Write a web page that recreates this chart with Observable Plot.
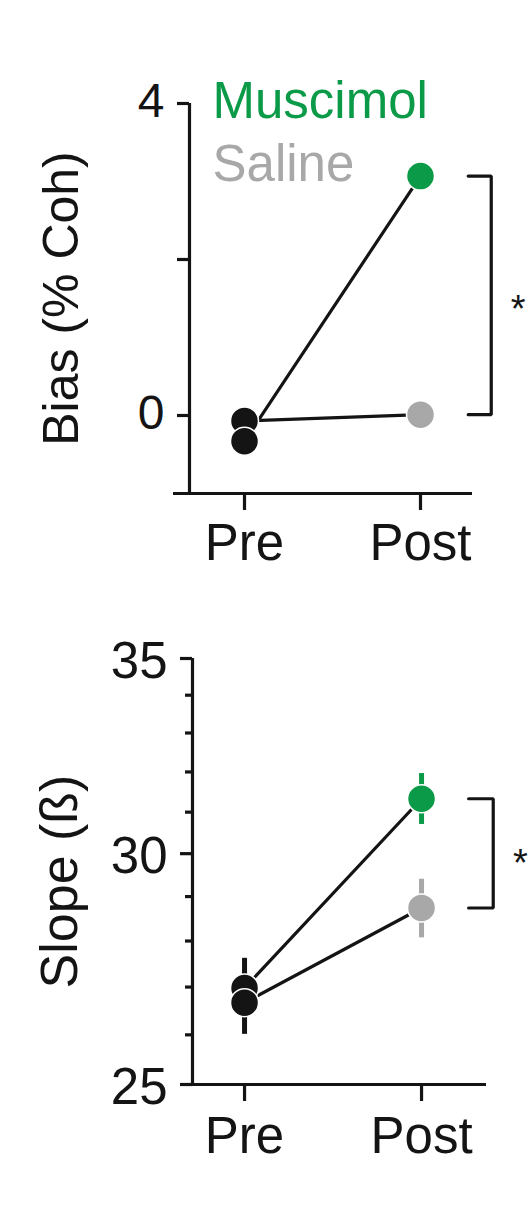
<!DOCTYPE html>
<html><head><meta charset="utf-8">
<script src="https://cdn.jsdelivr.net/npm/d3@7"></script>
<script src="https://cdn.jsdelivr.net/npm/@observablehq/plot@0.6"></script>
<style>
  html,body{margin:0;padding:0;background:#fff;}
  #chart svg{display:block;}
</style>
</head><body><div id="chart"></div>
<script>
// ---- data ----
const phases = ["Pre", "Post"];
const groups = ["Muscimol", "Saline"];
const biasMuscimol = [-0.33, 3.07];
const biasSaline = [-0.07, 0.01];
const slopeMuscimol = [26.98, 31.33];
const slopeMuscimolLo = [26.34, 30.70];
const slopeMuscimolHi = [27.62, 31.96];
const slopeSaline = [26.67, 28.74];
const slopeSalineLo = [26.01, 28.07];
const slopeSalineHi = [27.33, 29.40];
const biasTicks = [0, 2, 4];
const biasTickLabels = ["0", "", "4"];
const slopeMajorTicks = [25, 30, 35];
const slopeMinorTicks = [26, 27, 28, 29, 31, 32, 33, 34];

// ---- style ----
const ink = "#141414";
const groupColors = {Muscimol: "#0b9a48", Saline: "#a8a8a8"};
const font = "'Liberation Sans', Arial, Helvetica, sans-serif";
const lw = 3.2;

function rowsFor(values, lo, hi) {
  const out = [];
  groups.forEach(g => {
    values[g].forEach((v, i) => {
      out.push({group: g, phase: i, value: v,
        lo: lo ? lo[g][i] : null, hi: hi ? hi[g][i] : null,
        color: i === 0 ? ink : groupColors[g]});
    });
  });
  return out;
}

function yTicks(ticks, labels, size, fontSize, dy) {
  return [
    Plot.axisY({ticks, tickSize: size, tickFormat: () => "", stroke: ink, strokeWidth: lw, label: null}),
    ...(labels ? [Plot.text(ticks, {y: d => d, text: (d, i) => labels[i], frameAnchor: "left",
      textAnchor: "end", lineAnchor: "middle", dx: -(size + 13), dy, fontSize, fill: ink})] : [])
  ];
}

function panel(cfg) {
  const rows = cfg.rows;
  const post = g => rows.find(r => r.group === g && r.phase === 1).value;
  const mPost = post("Muscimol"), sPost = post("Saline");
  const bracket = [
    {x: cfg.armX, y: mPost}, {x: cfg.barX, y: mPost},
    {x: cfg.barX, y: sPost}, {x: cfg.armX, y: sPost}
  ];
  const mid = cfg.logY ? Math.sqrt(mPost * sPost) : (mPost + sPost) / 2;
  const dotRows = cfg.dotOrder.map(([g, i]) => rows.find(r => r.group === g && r.phase === i));
  const marks = [
    Plot.ruleX([cfg.xDomain[0]], {stroke: ink, strokeWidth: lw}),
    Plot.ruleY([cfg.yDomain[0]], {stroke: ink, strokeWidth: lw, insetLeft: cfg.xAxisExt}),
    ...cfg.yAxes,
    Plot.axisX({ticks: [0, 1], tickSize: 17, tickPadding: cfg.xTickPadding, tickFormat: i => phases[i],
      stroke: ink, strokeWidth: lw, fill: ink, fontSize: 51, label: null}),
    Plot.text([cfg.yLabel], {text: d => d, frameAnchor: "left", textAnchor: "middle", lineAnchor: "middle",
      rotate: -90, dx: cfg.yLabelDx, dy: cfg.yLabelDy, fontSize: cfg.yLabelSize, fill: ink}),
    Plot.line(rows, {x: "phase", y: "value", z: "group", stroke: ink, strokeWidth: lw}),
  ];
  if (cfg.errors) {
    marks.push(Plot.ruleX(rows, {x: "phase", y1: "lo", y2: "hi", stroke: "color", strokeWidth: 5}));
  }
  marks.push(
    Plot.dot(dotRows, {x: "phase", y: "value", fill: "color", r: 14, stroke: "white", strokeWidth: 1.5}),
    Plot.line(bracket, {x: "x", y: "y", stroke: ink, strokeWidth: lw, strokeLinejoin: "miter", curve: "linear"}),
    Plot.text(["*"], {text: d => d, x: cfg.starX, y: mid, dy: cfg.starDy, fontSize: 38, fill: ink})
  );
  if (cfg.legend) marks.push(...cfg.legend);
  return Plot.plot({
    width: 531, height: cfg.height,
    marginLeft: cfg.margins[3], marginRight: cfg.margins[1],
    marginTop: cfg.margins[0], marginBottom: cfg.margins[2],
    style: {fontFamily: font, background: "white", overflow: "visible"},
    x: {type: "linear", domain: cfg.xDomain, axis: null},
    y: {type: cfg.logY ? "log" : "linear", domain: cfg.yDomain, axis: null},
    color: {type: "identity"},
    marks
  });
}

const biasRows = rowsFor({Muscimol: biasMuscimol, Saline: biasSaline});
const slopeRows = rowsFor({Muscimol: slopeMuscimol, Saline: slopeSaline},
  {Muscimol: slopeMuscimolLo, Saline: slopeSalineLo},
  {Muscimol: slopeMuscimolHi, Saline: slopeSalineHi});

const topPanel = panel({
  rows: biasRows, height: 600, margins: [103, 59, 107, 189],
  xDomain: [-0.3125, 1.2955], yDomain: [-1, 4], logY: false, xAxisExt: -16, xTickPadding: 13,
  yAxes: yTicks(biasTicks, biasTickLabels, 12, 48, -2),
  yLabel: "Bias (% Coh)", yLabelDx: -128, yLabelDy: 0, yLabelSize: 50,
  dotOrder: [["Saline", 0], ["Muscimol", 0], ["Muscimol", 1], ["Saline", 1]],
  armX: 1.271, barX: 1.402, starX: 1.555, starDy: 14,
  legend: [
    Plot.text(["Muscimol"], {text: d => d, frameAnchor: "top-left", textAnchor: "start", lineAnchor: "top",
      dx: 23, dy: -22, fontSize: 51, fill: groupColors.Muscimol}),
    Plot.text(["Saline"], {text: d => d, frameAnchor: "top-left", textAnchor: "start", lineAnchor: "top",
      dx: 23, dy: 41, fontSize: 51, fill: groupColors.Saline})
  ]
});

const bottomPanel = panel({
  rows: slopeRows, height: 612, margins: [58, 45, 128, 192],
  xDomain: [-0.294, 1.367], yDomain: [25, 35], logY: true, xAxisExt: -12, errors: true, xTickPadding: 15,
  yAxes: [
    ...yTicks(slopeMajorTicks, slopeMajorTicks.map(String), 12, 51, 3),
    ...yTicks(slopeMinorTicks, null, 7)
  ],
  yLabel: "Slope (ß)", yLabelDx: -132, yLabelDy: 10, yLabelSize: 52,
  dotOrder: [["Muscimol", 0], ["Saline", 0], ["Muscimol", 1], ["Saline", 1]],
  armX: 1.266, barX: 1.405, starX: 1.559, starDy: 10
});

document.getElementById("chart").append(topPanel, bottomPanel);
</script>
</body></html>
